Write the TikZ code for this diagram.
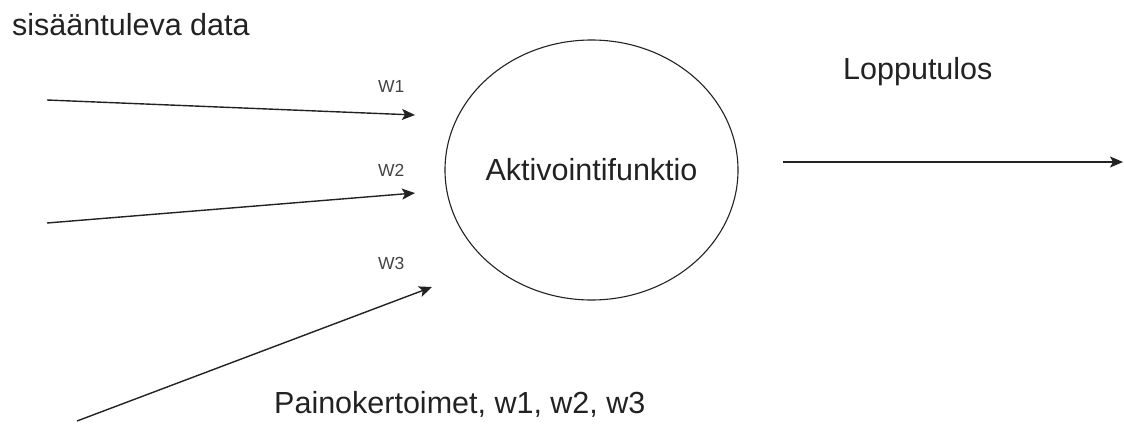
\documentclass[tikz,border=0pt]{standalone}
\usepackage{fontspec}
\setmainfont{Liberation Sans}
\usetikzlibrary{arrows.meta,shapes.geometric}
\definecolor{ink}{HTML}{222222}
\begin{document}
\begin{tikzpicture}[x=1pt,y=-1pt,
  label text/.style={inner sep=0pt,text=ink,font=\fontsize{30.5}{36}\selectfont},
  weight/.style={inner sep=0pt,text=ink!85,font=\fontsize{17.5}{21}\selectfont,anchor=base west},
  link/.style={draw=ink,line width=1.4pt,-{Stealth[length=13pt,width=11pt,inset=3pt]}}]
  \useasboundingbox (0,0) rectangle (1124,426);

  % neuron body
  \node[draw=ink,line width=1.1pt,ellipse,minimum width=293pt,minimum height=260pt,inner sep=0pt]
    (neuron) at (591.5,170) {};
  \node[label text,anchor=base] (act) at (591.5,180) {Aktivointifunktio};

  % texts
  \node[label text,anchor=base west] (input) at (12,35) {sisääntuleva data};
  \node[label text,anchor=base west] (result) at (843,79) {Lopputulos};
  \node[label text,anchor=base west] (weights) at (274,413) {Painokertoimet, w1, w2, w3};
  \node[weight] (w1) at (378,92) {W1};
  \node[weight] (w2) at (378,176) {W2};
  \node[weight] (w3) at (378,269) {W3};

  % input and output ends
  \coordinate (in1) at (47,100);
  \coordinate (tip1) at (415,115);
  \coordinate (in2) at (47,223);
  \coordinate (tip2) at (415,193);
  \coordinate (in3) at (77,421);
  \coordinate (tip3) at (432,287);
  \coordinate (out0) at (783,162);
  \coordinate (out1) at (1123,162);

  \draw[link] (in1) -- (tip1);
  \draw[link] (in2) -- (tip2);
  \draw[link] (in3) -- (tip3);
  \draw[link] (out0) -- (out1);
\end{tikzpicture}
\end{document}
